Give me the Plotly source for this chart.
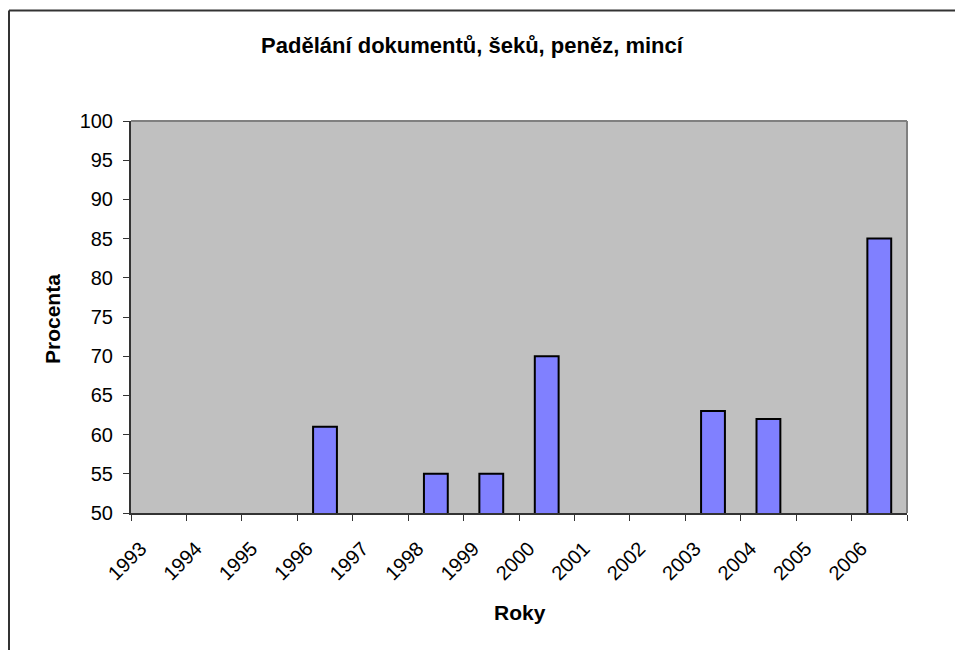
import plotly.graph_objects as go

years = ["1993", "1994", "1995", "1996", "1997", "1998", "1999",
         "2000", "2001", "2002", "2003", "2004", "2005", "2006"]
percent = [None, None, None, 61, None, 55, 55, 70, None, None, 63, 62, None, 85]
y_ticks = [50, 55, 60, 65, 70, 75, 80, 85, 90, 95, 100]

title_text = "Padělání dokumentů, šeků, peněz, mincí"
x_title = "Roky"
y_title = "Procenta"

FONT = "Liberation Sans, Arial, sans-serif"

# page body margin offsets the figure by 8px; work in window pixels
OFF = 8
W, H = 963 - 2 * OFF, 658 - 2 * OFF
L, R, T, B = 131 - OFF, 907 - OFF, 121 - OFF, 513 - OFF
pw, ph = R - L, B - T

def px(x):
    return (x - OFF - L) / pw

def py(y):
    return (B - (y - OFF)) / ph

fig = go.Figure()
fig.add_trace(go.Bar(
    x=years, y=percent,
    marker=dict(color="#8080FF", line=dict(color="#000000", width=2)),
))

fig.update_layout(
    width=W, height=H,
    margin=dict(l=L, r=W - R, t=T, b=H - B),
    paper_bgcolor="white",
    plot_bgcolor="#C0C0C0",
    bargap=0.57,
    showlegend=False,
    font=dict(family=FONT, size=20, color="black"),
    title=dict(text="<b>" + title_text + "</b>", x=px(472), xref="paper",
               xanchor="center", y=1 - (45 - OFF) / H, yref="container",
               yanchor="middle",
               font=dict(family=FONT, size=22, color="black")),
    xaxis=dict(
        type="category", categoryorder="array", categoryarray=years,
        tickson="boundaries", ticks="outside", ticklen=6, tickwidth=1,
        tickcolor="#333333", showline=True, linecolor="#333333", linewidth=2,
        showgrid=False, tickangle=-45, ticklabelstandoff=14, ticklabelshift=-18,
        tickfont=dict(family=FONT, size=20, color="black"),
    ),
    yaxis=dict(
        range=[50, 100], tickvals=y_ticks, ticks="outside", ticklen=6,
        tickwidth=1, tickcolor="#333333", showline=True, linecolor="#333333",
        linewidth=2, showgrid=False, zeroline=False, ticklabelstandoff=6,
        tickfont=dict(family=FONT, size=20, color="black"),
    ),
    shapes=[
        # top and right border of plot area
        dict(type="line", xref="paper", yref="paper", x0=0, x1=1, y0=1, y1=1,
             line=dict(color="#808080", width=2)),
        dict(type="line", xref="paper", yref="paper", x0=1, x1=1, y0=0, y1=1,
             line=dict(color="#808080", width=2)),
        # outer chart frame (cropped at right and bottom)
        dict(type="line", xref="paper", yref="paper", x0=px(9), x1=px(975),
             y0=py(10.5), y1=py(10.5), line=dict(color="#333333", width=2)),
        dict(type="line", xref="paper", yref="paper", x0=px(9), x1=px(9),
             y0=py(10.5), y1=py(680), line=dict(color="#333333", width=2)),
    ],
    annotations=[
        dict(text="<b>" + x_title + "</b>", xref="paper", yref="paper",
             x=px(520), y=py(612), xanchor="center", yanchor="middle",
             showarrow=False, font=dict(family=FONT, size=21, color="black")),
        dict(text="<b>" + y_title + "</b>", xref="paper", yref="paper",
             x=px(52), y=py(319), xanchor="center", yanchor="middle",
             textangle=-90, showarrow=False,
             font=dict(family=FONT, size=21, color="black")),
    ],
)

fig.write_html("out.html")
